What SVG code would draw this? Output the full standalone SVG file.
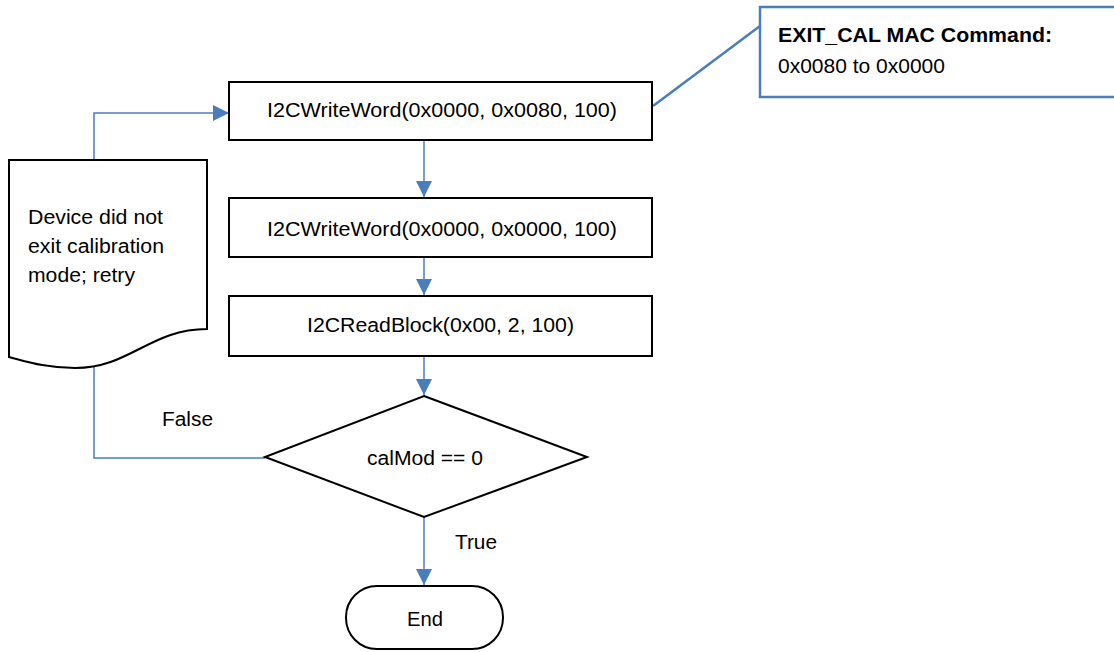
<svg xmlns="http://www.w3.org/2000/svg" width="1114" height="652" viewBox="0 0 1114 652">
<style>
.shape{fill:#fff;stroke:#000;stroke-width:2}
.conn{fill:none;stroke:#4a7ebb;stroke-width:1.5}
.t{font-family:"Liberation Sans",Arial,sans-serif;font-size:19.5px;fill:#000}
.b{font-weight:bold}
</style>
<defs>
<marker id="ah" markerUnits="userSpaceOnUse" markerWidth="16" markerHeight="16" refX="16" refY="8" orient="auto">
<path d="M0,0 L16,8 L0,16 z" fill="#4a7ebb"/>
</marker>
</defs>
<rect width="1114" height="652" fill="#fff"/>
<g id="connectors">
<path class="conn" d="M94,160 V113 H229" marker-end="url(#ah)"/>
<path class="conn" d="M424,140 V197" marker-end="url(#ah)"/>
<path class="conn" d="M424,257 V295" marker-end="url(#ah)"/>
<path class="conn" d="M424,356 V395" marker-end="url(#ah)"/>
<path class="conn" d="M424,517 V585" marker-end="url(#ah)"/>
<path class="conn" d="M94,364 V458 H265"/>
<path d="M653,106 L760,26" fill="none" stroke="#4a7ebb" stroke-width="2.5"/>
<text class="t" x="162" y="426" textLength="51" lengthAdjust="spacingAndGlyphs">False</text>
<text class="t" x="455" y="549" textLength="42" lengthAdjust="spacingAndGlyphs">True</text>
</g>
<g id="box1">
<rect class="shape" x="229" y="82" width="423" height="58"/>
<text class="t" x="267" y="117" textLength="350" lengthAdjust="spacingAndGlyphs">I2CWriteWord(0x0000, 0x0080, 100)</text>
</g>
<g id="box2">
<rect class="shape" x="229" y="198" width="423" height="59"/>
<text class="t" x="267" y="236" textLength="350" lengthAdjust="spacingAndGlyphs">I2CWriteWord(0x0000, 0x0000, 100)</text>
</g>
<g id="box3">
<rect class="shape" x="229" y="296" width="423" height="60"/>
<text class="t" x="307" y="332" textLength="267" lengthAdjust="spacingAndGlyphs">I2CReadBlock(0x00, 2, 100)</text>
</g>
<g id="decision">
<path class="shape" d="M424,396 L587,457 L424,517 L265,457 z"/>
<text class="t" x="367" y="465" textLength="116" lengthAdjust="spacingAndGlyphs">calMod == 0</text>
</g>
<g id="end">
<rect class="shape" x="346" y="586" width="157" height="63" rx="31" ry="31"/>
<text class="t" x="407" y="626" textLength="36" lengthAdjust="spacingAndGlyphs">End</text>
</g>
<g id="retry">
<path class="shape" d="M9,160 H207 V329 C150,329 130,368 75,368 C45,368 25,361 9,357 z"/>
<text class="t" x="28" y="224" textLength="135" lengthAdjust="spacingAndGlyphs">Device did not</text>
<text class="t" x="28" y="253" textLength="136" lengthAdjust="spacingAndGlyphs">exit calibration</text>
<text class="t" x="28" y="282" textLength="107" lengthAdjust="spacingAndGlyphs">mode; retry</text>
</g>
<g id="callout">
<rect x="760" y="7" width="370" height="90" fill="#fff" stroke="#4a7ebb" stroke-width="2.5"/>
<text class="t b" x="778" y="42" textLength="274" lengthAdjust="spacingAndGlyphs">EXIT_CAL MAC Command:</text>
<text class="t" x="778" y="73" textLength="167" lengthAdjust="spacingAndGlyphs">0x0080 to 0x0000</text>
</g>
</svg>
